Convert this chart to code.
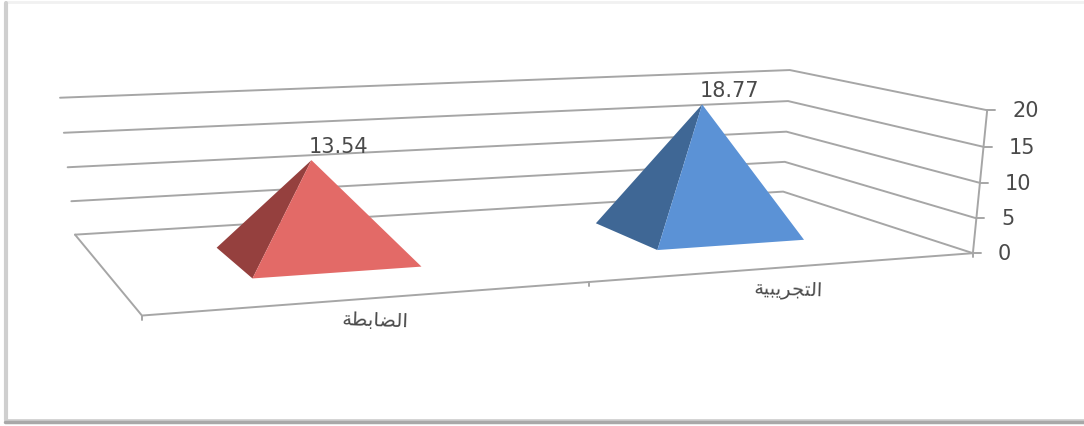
import numpy as np, pandas as pd, seaborn as sns, matplotlib
matplotlib.use("Agg")
import matplotlib.pyplot as plt
from matplotlib.patches import Rectangle

# ---- data ----
categories = ["الضابطة", "التجريبية"]
values = [13.54, 18.77]
value_labels = ["13.54", "18.77"]
y_ticks = [0, 5, 10, 15, 20]
light_colors = ["#E36A67", "#5B92D6"]
dark_colors = ["#95403E", "#3F6795"]

sns.set_theme(style="white")
plt.rcParams["font.family"] = ["DejaVu Sans"]

# ---- minimal Arabic shaping (matplotlib does not shape or reorder) ----
FORMS = {  # isolated, final, initial, medial
    "ا": (0xFE8D, 0xFE8E, None, None), "ل": (0xFEDD, 0xFEDE, 0xFEDF, 0xFEE0),
    "ض": (0xFEBD, 0xFEBE, 0xFEBF, 0xFEC0), "ب": (0xFE8F, 0xFE90, 0xFE91, 0xFE92),
    "ط": (0xFEC1, 0xFEC2, 0xFEC3, 0xFEC4), "ة": (0xFE93, 0xFE94, None, None),
    "ت": (0xFE95, 0xFE96, 0xFE97, 0xFE98), "ج": (0xFE9D, 0xFE9E, 0xFE9F, 0xFEA0),
    "ر": (0xFEAD, 0xFEAE, None, None), "ي": (0xFEF1, 0xFEF2, 0xFEF3, 0xFEF4),
}
def shape(word):
    res = []
    for i, ch in enumerate(word):
        f = FORMS[ch]
        prev = i > 0 and FORMS[word[i - 1]][2] is not None
        nxt = i < len(word) - 1 and f[2] is not None
        res.append(chr(f[3] if prev and nxt else f[1] if prev else f[2] if nxt else f[0]))
    return "".join(reversed(res))

# ---- perspective of the chart box: (across, depth, value) -> pixel ----
box3d = np.array([[0,0,0],[1,0,0],[1,1,0],[0,1,0],[1,0,20],[1,1,20],[0,1,20]], float)
box2d = np.array([[142,316],[973,253],[783,192],[75,234],[987,110],[790,70],[60,98]], float)
A = []
for (u, v, z), (x, y) in zip(box3d, box2d):
    A.append([u, v, z, 1, 0, 0, 0, 0, -x*u, -x*v, -x*z, -x])
    A.append([0, 0, 0, 0, u, v, z, 1, -y*u, -y*v, -y*z, -y])
P = np.linalg.svd(np.array(A))[2][-1].reshape(3, 4)
def proj(u, v, z):
    p = P @ np.array([u, v, z, 1.0])
    return p[:2] / p[2]

fig = plt.figure(figsize=(10.84, 4.26), dpi=100, facecolor="white")
ax = fig.add_axes([0, 0, 1, 1])

GRID = "#A6A6A6"
def polyline(points, color=GRID, lw=1.4):
    pts = np.array(points)
    sns.lineplot(x=pts[:, 0], y=pts[:, 1], sort=False, estimator=None,
                 color=color, lw=lw, ax=ax, legend=False)

# card frame
polyline([(6, 2), (1084, 2)], "#F1F1F1", 2)
polyline([(6, 3), (6, 420)], "#CFCFCF", 3)
polyline([(5, 420), (1084, 420)], "#D0D0D0", 2)
polyline([(5, 422), (1084, 422)], "#A8A8A8", 2.5)

# walls, floor, axis
for z in y_ticks:
    polyline([proj(0, 1, z), proj(1, 1, z), proj(1, 0, z)])
polyline([proj(0, 1, 0), proj(0, 0, 0), proj(1, 0, 0)])
polyline([proj(1, 0, 0), proj(1, 0, 20)])
for z in y_ticks:
    x, y = proj(1, 0, z)
    polyline([(x, y), (x + 8, y)])
    ax.text(x + 25, y + 1, str(z), ha="left", va="center", fontsize=15, color="#4A4A4A")
for u in (0, 0.5, 1):
    x, y = proj(u, 0, 0)
    polyline([(x, y), (x, y + 4)])

# pyramids
half_u, half_v = 0.1, 0.2
for i, (cat, val, lab, cl, cd) in enumerate(zip(categories, values, value_labels,
                                                 light_colors, dark_colors)):
    uc = (i + 0.5) / len(categories)
    apex = proj(uc, 0.5, val)
    left = proj(uc - half_u, 0.5 + half_v, 0)
    front = proj(uc - half_u, 0.5 - half_v, 0)
    right = proj(uc + half_u, 0.5 - half_v, 0)
    ax.fill(*zip(left, front, apex), color=cd, lw=0, zorder=3)
    ax.fill(*zip(front, right, apex), color=cl, lw=0, zorder=3)
    ax.text(apex[0] + 27, apex[1] - 13, lab, ha="center", va="center",
            fontsize=15, color="#4A4A4A", zorder=4)
    bx, by = proj(uc, 0, 0)
    ax.text(bx + 1, by + 23, shape(cat), ha="center", va="center", fontsize=14,
            color="#4A4A4A", rotation=-2, rotation_mode="anchor")

ax.set_xlim(0, 1084)
ax.set_ylim(426, 0)
ax.axis("off")
fig.savefig("out.png", dpi=100)
